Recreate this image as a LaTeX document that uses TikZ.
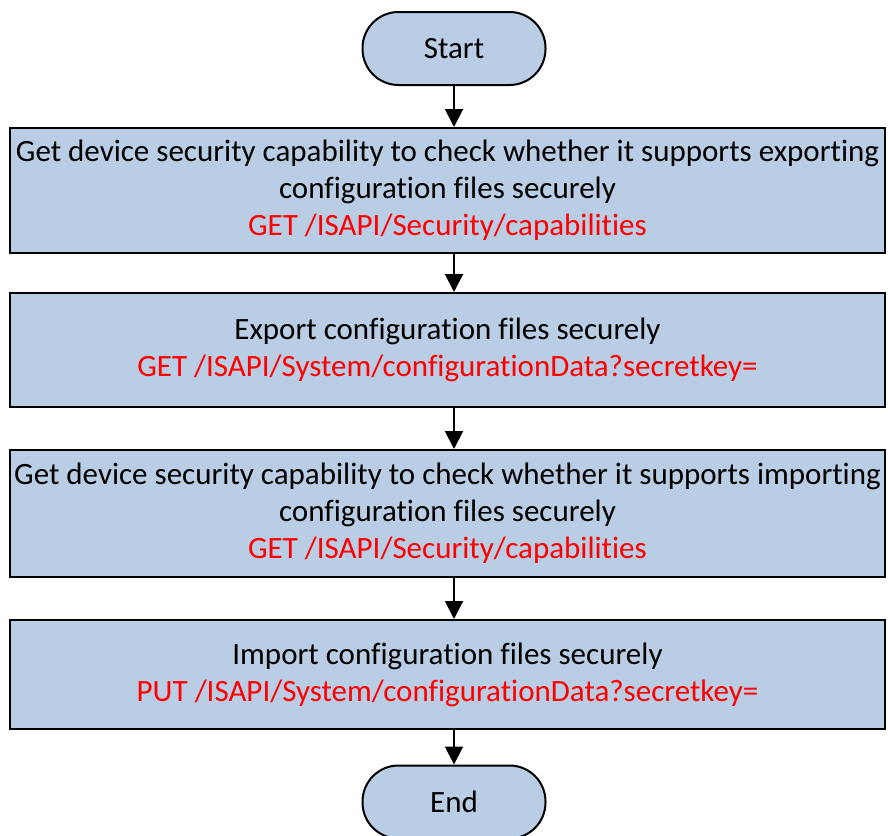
\documentclass[tikz,border=0pt]{standalone}
\usepackage{fontspec}
\setmainfont[Ligatures={NoCommon}]{Carlito}
\usetikzlibrary{arrows.meta}
\definecolor{boxblue}{RGB}{185,205,228}

\begin{document}
\begin{tikzpicture}[x=1pt,y=1pt]
    \tikzset { terminal/.style = { shape=rectangle,draw,line width=2pt,fill=boxblue,rounded corners=36pt,minimum width=183pt,minimum height=73pt,font=\fontsize{31}{37}\selectfont } }
    \tikzset { process/.style = { shape=rectangle,draw,line width=2pt,fill=boxblue,minimum width=875pt,inner sep=0pt,align=center,font=\fontsize{31}{37}\selectfont } }
    \tikzset { flow/.style = { -{Triangle[width=18pt,length=18pt]},line width=2pt } }

    \useasboundingbox (0,0) rectangle (888,-835);

    \node[terminal] (start) at (454,-48.5) {Start};

    \node[process,minimum height=125pt] (secexp) at (447.5,-190.5) {
      Get device security capability to check whether it supports exporting\\
      configuration files securely\\
      \textcolor{red}{GET /ISAPI/Security/capabilities}
    };

    \node[process,minimum height=114pt] (export) at (447.5,-350) {
      Export configuration files securely\\
      \textcolor{red}{GET /ISAPI/System/configurationData?secretkey=}
    };

    \node[process,minimum height=127pt] (secimp) at (447.5,-513.5) {
      Get device security capability to check whether it supports importing\\
      configuration files securely\\
      \textcolor{red}{GET /ISAPI/Security/capabilities}
    };

    \node[process,minimum height=109pt] (import) at (447.5,-674.5) {
      Import configuration files securely\\
      \textcolor{red}{PUT /ISAPI/System/configurationData?secretkey=}
    };

    \node[terminal] (end) at (454,-802) {End};

    \draw[flow] (start) to (secexp.north -| start);
    \draw[flow] (secexp.south -| start) to (export.north -| start);
    \draw[flow] (export.south -| start) to (secimp.north -| start);
    \draw[flow] (secimp.south -| start) to (import.north -| start);
    \draw[flow] (import.south -| start) to (end);
\end{tikzpicture}
\end{document}
